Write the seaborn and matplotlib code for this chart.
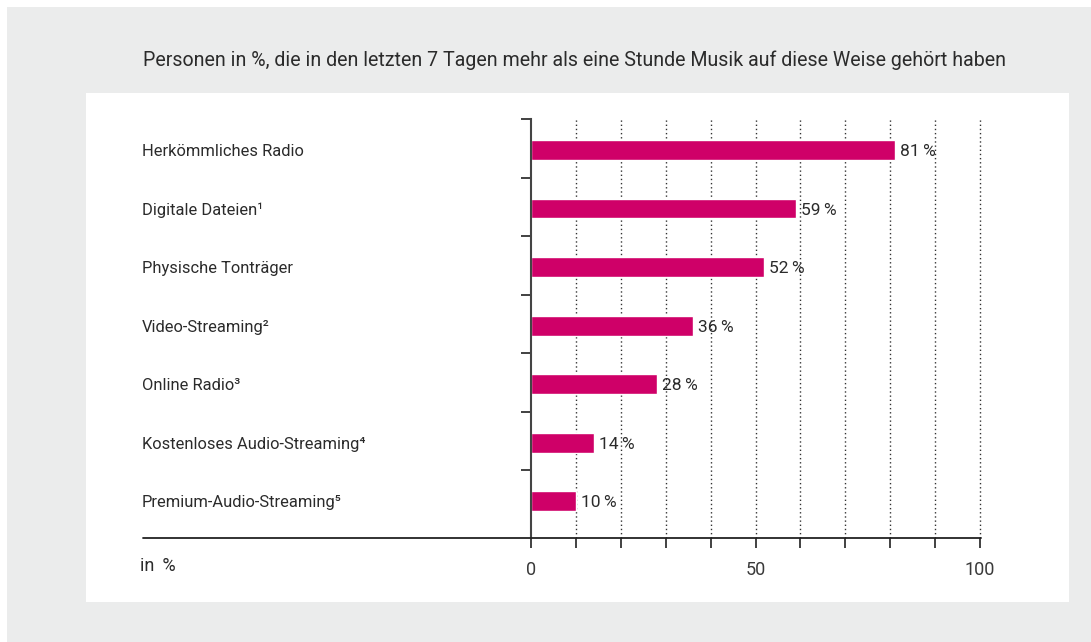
import matplotlib
matplotlib.use("Agg")
import matplotlib.pyplot as plt
from matplotlib.lines import Line2D
from matplotlib.patches import Rectangle
import pandas as pd
import seaborn as sns

categories = [
    "Herkömmliches Radio",
    "Digitale Dateien¹",
    "Physische Tonträger",
    "Video-Streaming²",
    "Online Radio³",
    "Kostenloses Audio-Streaming⁴",
    "Premium-Audio-Streaming⁵",
]
values = [81, 59, 52, 36, 28, 14, 10]
x_ticks = list(range(0, 101, 10))
x_labels = ["0", "", "", "", "", "50", "", "", "", "", "100"]
title = "Personen in %, die in den letzten 7 Tagen mehr als eine Stunde Musik auf diese Weise gehört haben"

BAR = "#cf0068"
TEXT = "#2b2b2b"
GRAY_BG = "#ebecec"
W, H = 1091, 642

sns.set_theme(style="white")
plt.rcParams["font.family"] = ["Roboto", "DejaVu Sans"]

df = pd.DataFrame({"kategorie": categories, "anteil": values})


def fx(px):
    return px / W


def fy(py):
    return 1 - py / H


fig = plt.figure(figsize=(W / 100, H / 100), dpi=100, facecolor="white")

# grey frame and white panel behind the chart
fig.add_artist(Rectangle((fx(7), 0), 1 - fx(7), fy(7), transform=fig.transFigure,
                         facecolor=GRAY_BG, edgecolor="none", zorder=-10))
fig.add_artist(Rectangle((fx(86), fy(602)), fx(1069) - fx(86), fy(93) - fy(602),
                         transform=fig.transFigure, facecolor="white",
                         edgecolor="none", zorder=-9))

ax = fig.add_axes([fx(531), fy(538), fx(980) - fx(531), fy(119) - fy(538)])
ax.set_facecolor("none")

sns.barplot(data=df, x="anteil", y="kategorie", color=BAR, width=0.34,
            saturation=1, ax=ax, zorder=3)

ax.set_xlim(0, 100)
ax.set_ylim(6.63, -0.53)
ax.set_xlabel("")
ax.set_ylabel("")

# dotted grid
for t in x_ticks[1:]:
    ax.axvline(t, color="#333333", lw=1, ls=(0, (1, 2)), zorder=1, clip_on=False)

# spines
for s in ["top", "right", "bottom"]:
    ax.spines[s].set_visible(False)
ax.spines["left"].set_color("#444444")
ax.spines["left"].set_linewidth(1.5)
ax.spines["left"].set_zorder(4)

# category boundary ticks on the left axis
ax.set_yticks([i - 0.53 for i in range(len(categories))])
ax.set_yticklabels([])
ax.tick_params(axis="y", direction="out", length=7.5, width=1.3, color="#333333", left=True)

ax.set_xticks(x_ticks)
ax.set_xticklabels(x_labels)
ax.tick_params(axis="x", direction="out", length=7.5, width=1.3, color="#333333",
               bottom=True, pad=9, labelsize=13, labelcolor="#3a3a3a")

# baseline reaching into the label column
fig.add_artist(Line2D([fx(143), fx(981)], [fy(538), fy(538)], transform=fig.transFigure,
                      color="#222222", lw=1.3))

# category labels
for i, c in enumerate(categories):
    y_disp = ax.transData.transform((0, i))[1]
    fig.text(fx(142), fig.transFigure.inverted().transform((0, y_disp))[1], c,
             ha="left", va="center_baseline", fontsize=11.9, color=TEXT)

# value labels
for i, v in enumerate(values):
    ax.text(v + 1.1, i, f"{v}\u2009%", ha="left", va="center_baseline", fontsize=12.5,
            color=TEXT, family=["Roboto", "DejaVu Sans"])

fig.text(fx(140), fy(566), "in \u2009%", ha="left", va="center", fontsize=13, color=TEXT,
         family=["Roboto", "DejaVu Sans"])
fig.text(fx(143), fy(60), title, ha="left", va="center", fontsize=14.1, color=TEXT)

fig.savefig("out.png", dpi=100, facecolor="white")
